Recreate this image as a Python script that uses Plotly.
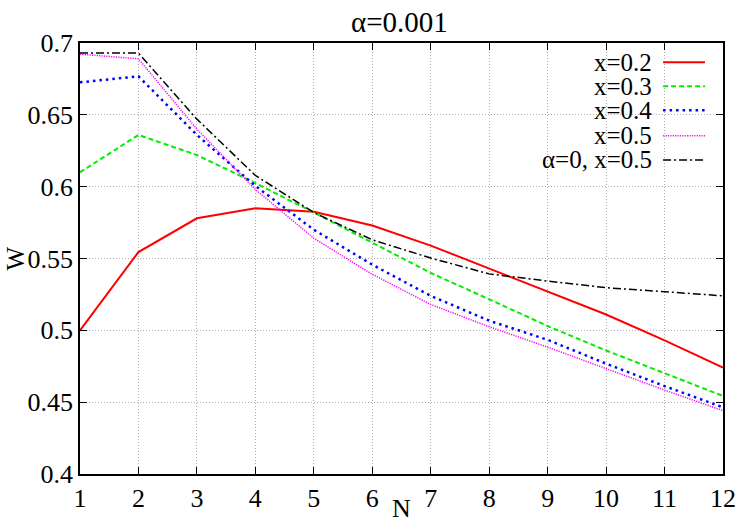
import plotly.graph_objects as go

N = list(range(1, 13))
w_x02 = [0.500, 0.5545, 0.578, 0.585, 0.5826, 0.573, 0.559, 0.543, 0.5275, 0.511, 0.493, 0.474]
w_x03 = [0.610, 0.636, 0.622, 0.6025, 0.582, 0.561, 0.540, 0.5216, 0.503, 0.486, 0.470, 0.4543]
w_x04 = [0.6726, 0.6768, 0.636, 0.6005, 0.570, 0.5457, 0.524, 0.5067, 0.4934, 0.4768, 0.4612, 0.4464]
w_x05 = [0.6922, 0.689, 0.640, 0.598, 0.5641, 0.539, 0.518, 0.5025, 0.4883, 0.4733, 0.4584, 0.4441]
w_a0_x05 = [0.693, 0.693, 0.647, 0.6078, 0.582, 0.563, 0.5503, 0.5393, 0.5343, 0.5297, 0.5269, 0.524]

labels = ["x=0.2", "x=0.3", "x=0.4", "x=0.5", "α=0, x=0.5"]
series = [w_x02, w_x03, w_x04, w_x05, w_a0_x05]
colors = ["#ff0000", "#00ee00", "#0000ff", "#ff00ff", "#000000"]
dashes = ["solid", "5px,3px", "2.5px,4px", "1.2px,1.2px", "8px,3px,2px,3px"]
widths = [2, 2, 2.5, 1.5, 1.5]

FONT = "Liberation Serif"
fig = go.Figure()
for lab, ys, c, d, w in zip(labels, series, colors, dashes, widths):
    fig.add_trace(go.Scatter(x=N, y=ys, mode="lines", name=lab,
                             line=dict(color=c, dash=d, width=w), showlegend=False))

# manual gnuplot-style legend (text on the left, sample on the right)
fig.add_shape(type="rect", xref="paper", yref="paper", x0=0.758, x1=0.991, y0=0.703, y1=0.984,
              fillcolor="white", line=dict(width=0), layer="between")
rows = [0.9556, 0.8995, 0.8437, 0.7846, 0.7287]
for lab, c, d, w, yy in zip(labels, colors, dashes, widths, rows):
    fig.add_annotation(xref="paper", yref="paper", x=0.893, y=yy, text=lab, showarrow=False,
                       xanchor="right", yanchor="middle", font=dict(family=FONT, size=25, color="black"))
    fig.add_shape(type="line", xref="paper", yref="paper", x0=0.9068, x1=0.972, y0=yy, y1=yy,
                  line=dict(color=c, dash=d, width=w))

fig.add_annotation(xref="paper", yref="paper", x=0.5, y=(478 - 513) / 435, text="N", showarrow=False,
                   xanchor="center", yanchor="middle", font=dict(family=FONT, size=26, color="black"))
fig.add_annotation(xref="paper", yref="paper", x=(15 - 80) / 644, y=0.5, text="W", showarrow=False,
                   textangle=-90, xanchor="center", yanchor="middle", font=dict(family=FONT, size=25, color="black"))
fig.add_annotation(xref="paper", yref="paper", x=(400 - 80) / 644, y=(478 - 22) / 435, text="α=0.001",
                   showarrow=False, xanchor="center", yanchor="middle",
                   font=dict(family=FONT, size=29, color="black"))

axis_common = dict(showline=True, linecolor="black", linewidth=1.5, mirror="ticks",
                   ticks="inside", ticklen=7, tickwidth=1, tickcolor="black",
                   showgrid=True, gridcolor="#b0b0b0", griddash="1px,2px", gridwidth=1,
                   zeroline=False, tickfont=dict(family=FONT, size=26, color="black"))
fig.update_xaxes(range=[1, 12], tickmode="array", tickvals=N, **axis_common)
fig.update_yaxes(range=[0.4, 0.7], tickmode="array",
                 tickvals=[0.4, 0.45, 0.5, 0.55, 0.6, 0.65, 0.7],
                 ticktext=["0.4", "0.45", "0.5", "0.55", "0.6", "0.65", "0.7"], **axis_common)
fig.update_layout(width=750, height=525, margin=dict(l=80, r=27, t=43, b=47),
                  paper_bgcolor="white", plot_bgcolor="white",
                  font=dict(family=FONT, size=26, color="black"))
fig.write_html("out.html")
